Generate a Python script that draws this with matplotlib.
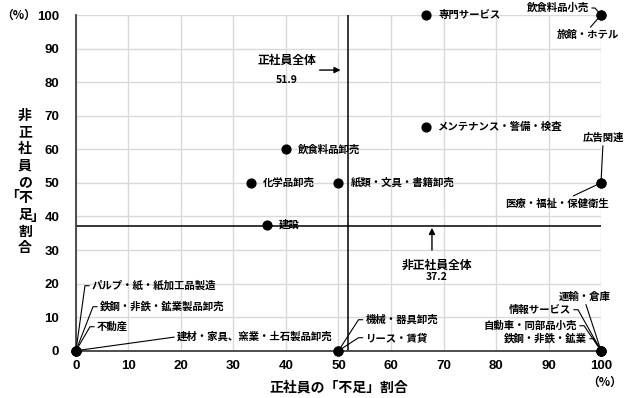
import matplotlib
matplotlib.use("Agg")
import matplotlib.pyplot as plt

plt.rcParams["font.family"] = ["Noto Sans CJK JP", "DejaVu Sans"]

# ── 1. Datos ─────────────────────────────────────────────────────────────────
industrias = [
    "専門サービス", "飲食料品小売", "旅館・ホテル", "メンテナンス・警備・検査",
    "飲食料品卸売", "化学品卸売", "紙類・文具・書籍卸売", "広告関連",
    "医療・福祉・保健衛生", "建設", "パルプ・紙・紙加工品製造",
    "鉄鋼・非鉄・鉱業製品卸売", "不動産", "建材・家具、窯業・土石製品卸売",
    "機械・器具卸売", "リース・賃貸", "運輸・倉庫", "情報サービス",
    "自動車・同部品小売", "鉄鋼・非鉄・鉱業",
]
falta_seishain = [66.7, 100, 100, 66.7, 40.0, 33.3, 50.0, 100, 100, 36.3,
                  0, 0, 0, 0, 50, 50, 100, 100, 100, 100]
falta_hiseishain = [100, 100, 100, 66.7, 60.0, 50.0, 50.0, 50, 50, 37.5,
                    0, 0, 0, 0, 0, 0, 0, 0, 0, 0]

total_seishain = 51.9
total_hiseishain = 37.2

x_ticks = [0, 10, 20, 30, 40, 50, 60, 70, 80, 90, 100]
y_ticks = [0, 10, 20, 30, 40, 50, 60, 70, 80, 90, 100]

# ── 2. Posicion de etiquetas (pixeles respecto al punto) ────────────────────
# nombre: (dx, dy, ha, relpos, angulo del brazo, largo del brazo)
etiquetas = {
    "飲食料品小売": (-12, 7, "right", (1, 0.5), 0, 6),
    "旅館・ホテル": (-13, -20, "center", (0.5, 1), None, 0),
    "広告関連": (2, 45, "center", (0.5, 0), None, 0),
    "医療・福祉・保健衛生": (-44, -21, "center", (0.6, 1), None, 0),
    "パルプ・紙・紙加工品製造": (16, 65, "left", (0, 0.5), 180, 7),
    "鉄鋼・非鉄・鉱業製品卸売": (24, 44, "left", (0, 0.5), 180, 7),
    "不動産": (21, 24, "left", (0, 0.5), 180, 7),
    "建材・家具、窯業・土石製品卸売": (101, 14, "left", (0, 0.5), None, 0),
    "機械・器具卸売": (27, 31, "left", (0, 0.5), 180, 7),
    "リース・賃貸": (27, 13, "left", (0, 0.5), 180, 7),
    "運輸・倉庫": (-16, 54, "center", (0.5, 0), None, 0),
    "情報サービス": (-30, 41, "right", (1, 0.5), 0, 7),
    "自動車・同部品小売": (-24, 25, "right", (1, 0.5), 0, 7),
    "鉄鋼・非鉄・鉱業": (-14, 12, "right", (1, 0.5), 0, 7),
}

# ── 3. Grafico ───────────────────────────────────────────────────────────────
fig = plt.figure(figsize=(6.3, 3.98), dpi=100)
ax = fig.add_axes([0.1206, 0.1188, 0.954 - 0.1206, 0.9623 - 0.1188])

ax.set_xlim(0, 100)
ax.set_ylim(0, 100)
ax.set_xticks(x_ticks)
ax.set_yticks(y_ticks)
ax.grid(True, color="#d9d9d9", linewidth=1)
ax.set_axisbelow(True)
for lado in ["top", "right"]:
    ax.spines[lado].set_visible(False)
for lado in ["left", "bottom"]:
    ax.spines[lado].set_color("#404040")
    ax.spines[lado].set_linewidth(1.3)
ax.tick_params(length=0, labelsize=9.5)
ax.tick_params(axis="y", pad=12)
ax.tick_params(axis="x", pad=7)
for lab in ax.get_xticklabels() + ax.get_yticklabels():
    lab.set_family(["Liberation Sans", "Noto Sans CJK JP"])
    lab.set_fontweight("bold")

# lineas de totales
ax.axvline(total_seishain, color="black", linewidth=1.1, zorder=2)
ax.axhline(total_hiseishain, color="black", linewidth=1.1, zorder=2)

ax.scatter(falta_seishain, falta_hiseishain, s=40, color="black", zorder=4, clip_on=False)

estilo = dict(fontsize=7.5, fontweight="bold", va="center")
for nombre, xv, yv in zip(industrias, falta_seishain, falta_hiseishain):
    if nombre in etiquetas:
        dx, dy, ha, relpos, ang, brazo = etiquetas[nombre]
        if ang is None:
            conn = "arc3,rad=0"
        else:
            conn = f"arc,angleA={ang},armA={brazo},angleB=0,armB=0,rad=0"
        ax.annotate(nombre, xy=(xv, yv), xytext=(dx, dy), textcoords="offset pixels",
                    ha=ha, annotation_clip=False,
                    arrowprops=dict(arrowstyle="-", color="black", lw=0.8,
                                    shrinkA=0, shrinkB=3, relpos=relpos,
                                    connectionstyle=conn),
                    **estilo)
    else:
        ax.annotate(nombre, xy=(xv, yv), xytext=(12, 0), textcoords="offset pixels",
                    ha="left", **estilo)

# etiquetas de totales
ax.text(40.2, 86.6, "正社員全体", ha="center", va="center", fontsize=8.5, fontweight="bold")
ax.text(40.2, 80.6, f"{total_seishain}", ha="center", va="center", fontsize=7.5,
        fontweight="bold")
ax.annotate("", xy=(total_seishain - 1.5, 83.6), xytext=(46.4, 83.6),
            arrowprops=dict(arrowstyle="-|>", color="black", lw=1, mutation_scale=9,
                            shrinkA=0, shrinkB=0))

ax.text(68.8, 25.5, "非正社員全体", ha="center", va="center", fontsize=8.5, fontweight="bold")
ax.text(68.6, 22.0, f"{total_hiseishain}", ha="center", va="center", fontsize=7.5,
        fontweight="bold")
ax.annotate("", xy=(67.8, total_hiseishain - 0.6), xytext=(67.8, 30.0),
            arrowprops=dict(arrowstyle="-|>", color="black", lw=1, mutation_scale=9,
                            shrinkA=0, shrinkB=0))

# titulos de ejes
ax.set_xlabel("正社員の「不足」割合", fontsize=10, fontweight="bold", labelpad=6)
fig.text(0.030, 0.962, "（%）", ha="center", va="center", fontsize=8.5, fontweight="bold")
fig.text(0.960, 0.040, "（%）", ha="center", va="center", fontsize=8.5, fontweight="bold")

# etiqueta vertical apilada
x_lab = 25 / 630
y0 = 1 - 116 / 398
paso = 16.5 / 398
em = 13.9 / 630
filas = ["非", "正", "社", "員", "の", "不", "足", "割", "合"]
for i, ch in enumerate(filas):
    fig.text(x_lab, y0 - i * paso, ch, ha="center", va="center", fontsize=10,
             fontweight="bold")
fig.text(x_lab - 0.9 * em, y0 - 5 * paso + 2 / 398, "「", ha="center", va="center",
         fontsize=10, fontweight="bold")
fig.text(x_lab + 0.9 * em, y0 - 6 * paso - 2 / 398, "」", ha="center", va="center",
         fontsize=10, fontweight="bold")

plt.savefig("out.png", dpi=100)
plt.close()
